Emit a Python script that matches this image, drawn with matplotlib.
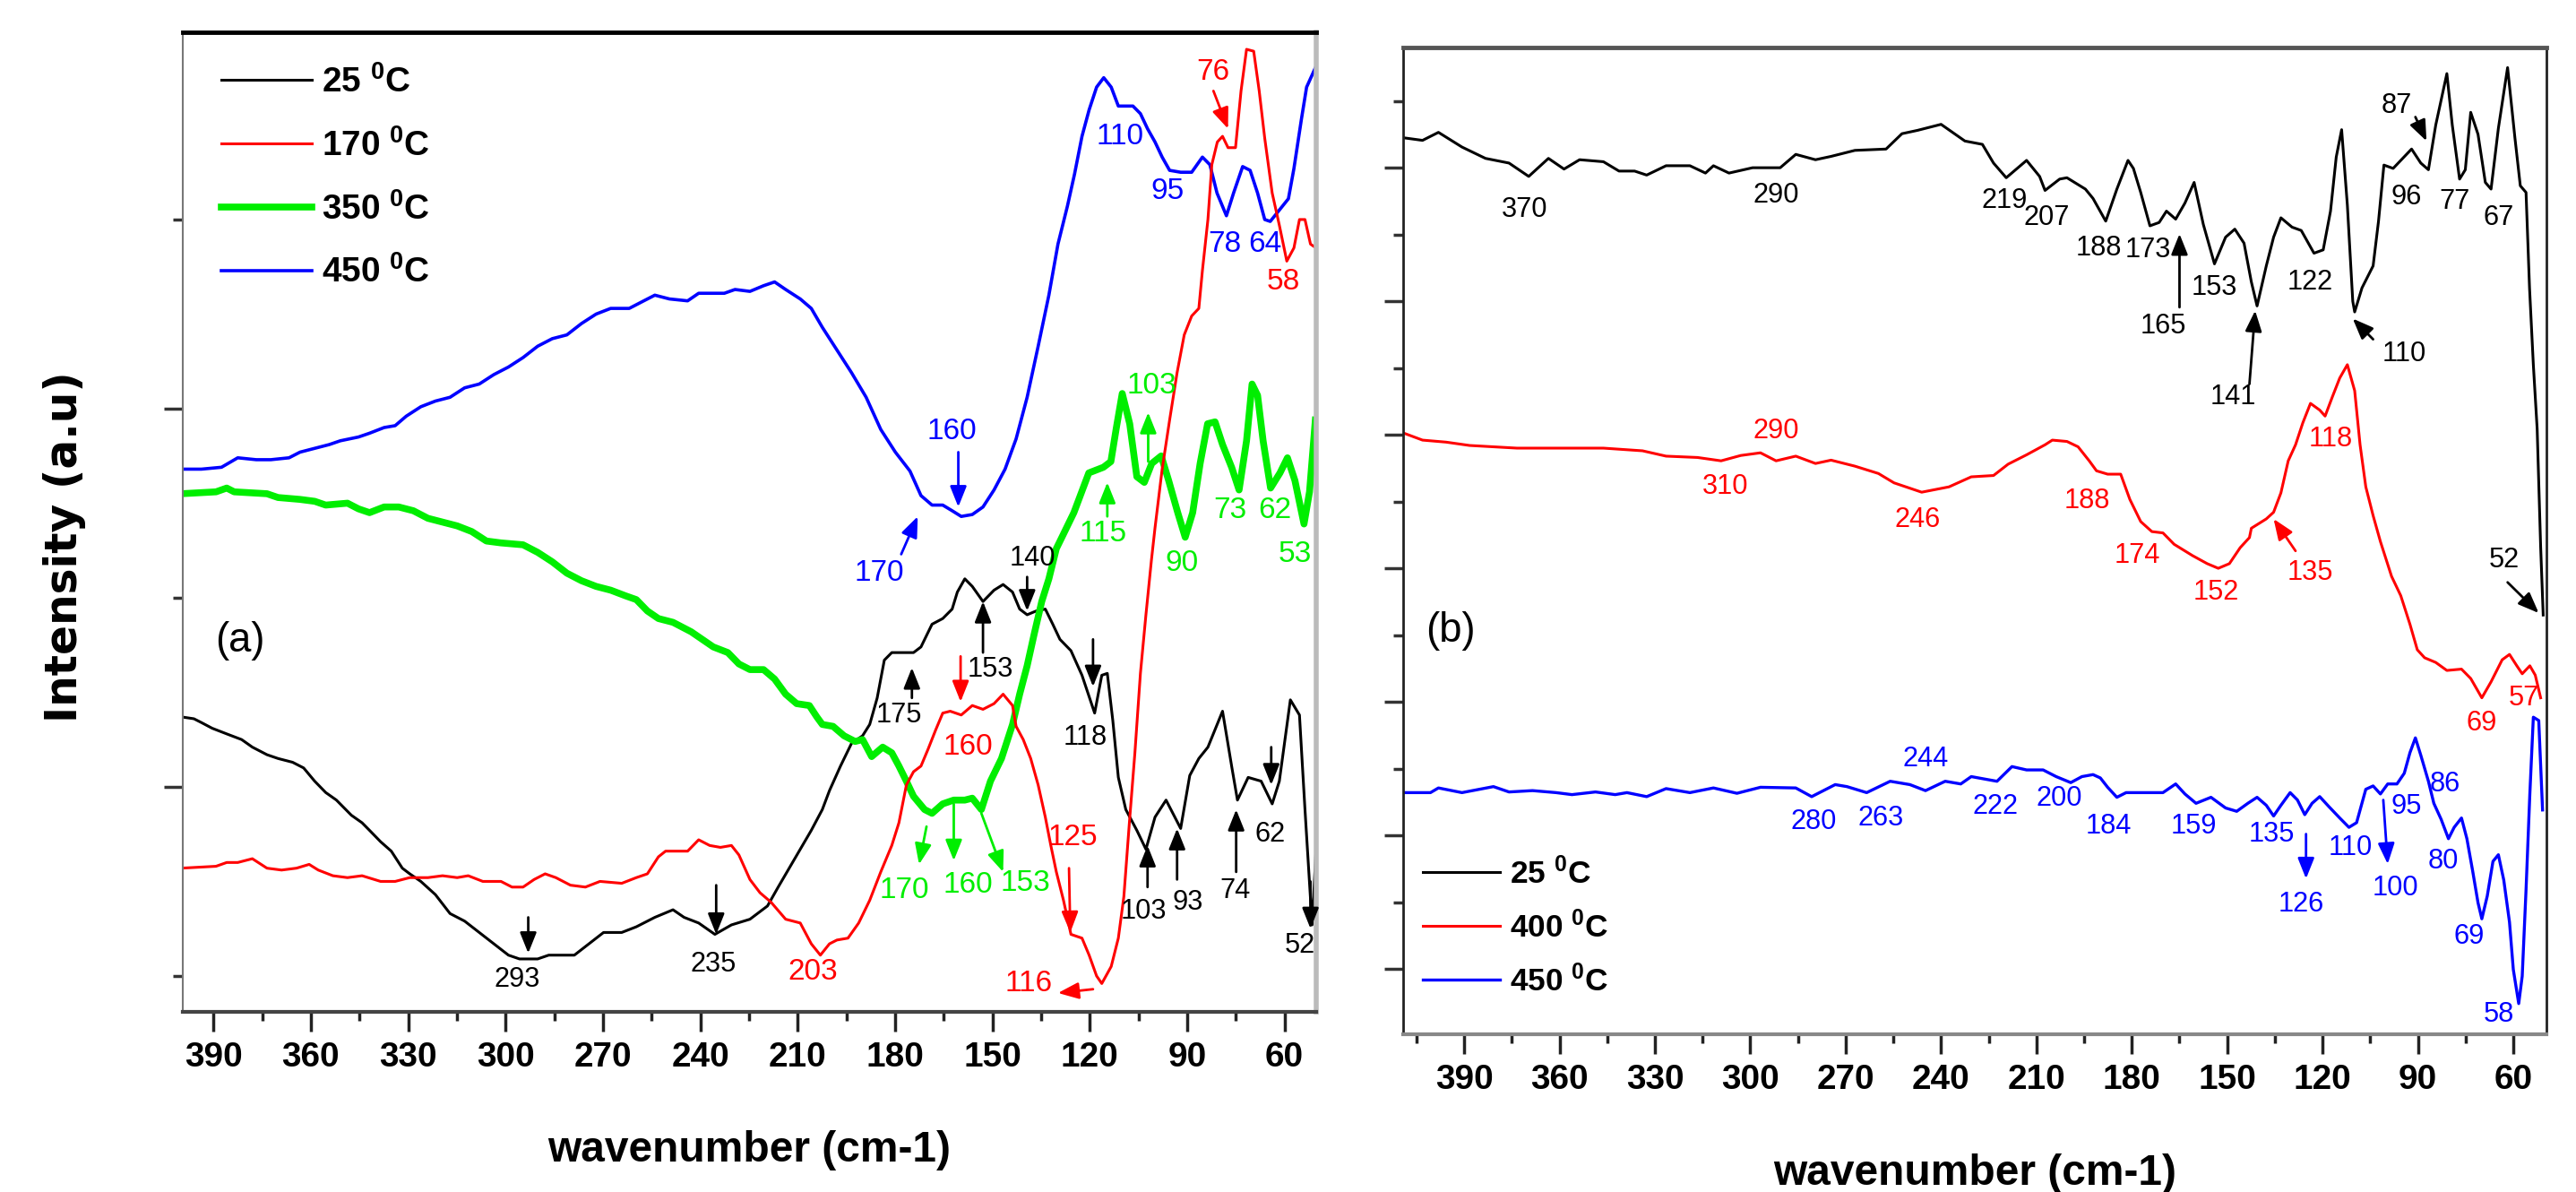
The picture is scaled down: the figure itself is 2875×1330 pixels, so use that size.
import matplotlib
matplotlib.use('Agg')
import matplotlib.pyplot as plt
from matplotlib import font_manager as fm
from matplotlib.ticker import MultipleLocator, NullFormatter


def pick_font(names):
    for n in names:
        try:
            fm.findfont(fm.FontProperties(family=n), fallback_to_default=False)
            return n
        except ValueError:
            continue
    return None


NARROW = pick_font(['Liberation Sans Narrow', 'Arial Narrow'])
SCALE = 1.0
if NARROW is None:
    NARROW = 'Liberation Sans'
    SCALE = 0.82
REGULAR = 'Liberation Sans'

plt.rcParams['font.family'] = [NARROW, 'DejaVu Sans']
plt.rcParams['mathtext.fontset'] = 'custom'
plt.rcParams['mathtext.rm'] = NARROW

BLUE, RED, GREEN, BLACK = '#0000ff', '#ff0000', '#00ee00', '#000000'

# ---------------- panel (a) data ----------------
a_black_wn = [399.9, 396.0, 393.7, 390.4, 385.9, 381.3, 378.0, 373.5, 370.1, 365.6, 362.2, 358.8, 355.4, 352.1,
              347.5, 344.2, 341.9, 338.5, 335.2, 331.8, 329.5, 326.1, 321.6, 317.1, 312.6, 308.1, 303.6, 299.1,
              295.7, 290.1, 286.7, 278.8, 274.3, 269.8, 264.2, 259.7, 254.0, 248.4, 245.0, 240.5, 235.5, 230.4,
              224.7, 219.3, 216.0, 212.6, 209.2, 205.8, 202.4, 200.2, 196.8, 193.4, 190.0, 187.8, 185.5, 183.3,
              181.0, 174.3, 172.0, 168.6, 165.3, 162.4, 160.8, 158.5, 156.2, 152.9, 149.5, 146.7, 143.8, 141.6,
              139.3, 136.5, 133.7, 131.4, 129.2, 125.8, 122.4, 118.5, 116.3, 114.6, 112.9, 111.2, 108.9, 105.5,
              102.7, 99.9, 96.5, 92.0, 89.2, 86.4, 83.6, 79.1, 76.2, 74.5, 71.2, 67.2, 63.8, 61.6, 58.2, 55.4,
              53.7, 51.5, 49.8]
a_black_i = [2.37, 2.36, 2.34, 2.31, 2.28, 2.25, 2.21, 2.17, 2.15, 2.13, 2.10, 2.03, 1.97, 1.93,
             1.85, 1.81, 1.77, 1.71, 1.66, 1.57, 1.54, 1.50, 1.43, 1.33, 1.29, 1.23, 1.17, 1.11,
             1.09, 1.09, 1.11, 1.11, 1.17, 1.23, 1.23, 1.26, 1.31, 1.35, 1.31, 1.28, 1.22, 1.27,
             1.30, 1.37, 1.47, 1.57, 1.67, 1.77, 1.88, 1.98, 2.11, 2.23, 2.27, 2.33, 2.47, 2.67,
             2.71, 2.71, 2.74, 2.86, 2.89, 2.94, 3.03, 3.10, 3.06, 2.98, 3.04, 3.07, 3.03, 2.94,
             2.91, 2.93, 2.94, 2.86, 2.78, 2.72, 2.59, 2.39, 2.59, 2.60, 2.35, 2.05, 1.88, 1.77,
             1.67, 1.84, 1.93, 1.78, 2.06, 2.15, 2.21, 2.40, 2.10, 1.93, 2.05, 2.03, 1.91, 2.03, 2.46, 2.38,
             1.88, 1.27, 1.83]

a_red_wn = [399.9, 389.2, 385.9, 382.5, 378.0, 373.5, 369.0, 364.4, 360.5, 357.7, 353.2, 348.7, 344.2, 338.5,
            334.0, 329.5, 323.9, 319.4, 314.9, 311.5, 307.0, 301.4, 298.0, 294.6, 291.2, 287.8, 284.5, 280.0,
            275.4, 270.9, 264.2, 259.7, 256.3, 252.9, 250.7, 246.1, 243.9, 240.5, 237.1, 233.8, 230.4, 228.1,
            224.7, 221.6, 218.2, 213.7, 209.2, 205.8, 203.0, 200.2, 197.9, 194.5, 191.2, 187.8, 184.4, 181.0,
            178.8, 176.5, 174.3, 172.0, 169.8, 167.5, 165.3, 163.0, 159.6, 156.2, 152.9, 149.5, 146.7, 143.8,
            142.7, 140.5, 138.2, 135.9, 133.7, 132.0, 130.3, 128.1, 125.8, 122.4, 120.2, 117.9, 116.3, 113.4,
            111.2, 109.5, 107.8, 106.1, 104.4, 102.7, 101.0, 99.9, 97.7, 95.4, 93.1, 90.9, 88.6, 86.4, 85.3,
            83.6, 82.4, 80.7, 79.1, 77.4, 75.1, 73.4, 71.7, 69.5, 67.8, 66.1, 63.8, 61.6, 59.3, 57.1, 55.4,
            53.7, 52.0, 50.3]
a_red_i = [1.57, 1.58, 1.60, 1.60, 1.62, 1.57, 1.56, 1.57, 1.59, 1.56, 1.53, 1.52, 1.53, 1.50,
           1.50, 1.52, 1.52, 1.53, 1.52, 1.53, 1.50, 1.50, 1.47, 1.47, 1.51, 1.54, 1.52, 1.48,
           1.47, 1.50, 1.49, 1.52, 1.54, 1.63, 1.66, 1.66, 1.66, 1.72, 1.69, 1.68, 1.69, 1.64,
           1.51, 1.44, 1.39, 1.30, 1.28, 1.17, 1.11, 1.17, 1.19, 1.20, 1.28, 1.40, 1.55, 1.69,
           1.81, 2.01, 2.08, 2.11, 2.20, 2.30, 2.39, 2.40, 2.38, 2.43, 2.41, 2.44, 2.49, 2.43,
           2.32, 2.25, 2.15, 2.01, 1.84, 1.69, 1.55, 1.40, 1.22, 1.20, 1.11, 1.00, 0.96, 1.05,
           1.20, 1.42, 1.81, 2.18, 2.60, 2.91, 3.20, 3.37, 3.68, 3.94, 4.19, 4.39, 4.49, 4.53, 4.73,
           5.00, 5.29, 5.41, 5.44, 5.38, 5.38, 5.68, 5.90, 5.89, 5.68, 5.43, 5.14, 4.97, 4.78, 4.85, 5.00,
           5.00, 4.87, 4.85]

a_green_wn = [399.9, 389.2, 385.9, 383.6, 373.5, 370.1, 363.3, 358.8, 355.4, 348.7, 345.3, 341.9, 337.4, 332.9,
              328.4, 323.9, 319.4, 314.9, 310.4, 305.9, 301.4, 294.6, 290.1, 285.6, 281.1, 276.6, 272.1, 267.6,
              263.0, 259.7, 256.3, 252.9, 248.4, 242.8, 239.4, 236.0, 231.5, 228.1, 224.7, 220.5, 217.1, 213.7,
              210.3, 206.4, 204.1, 202.4, 199.1, 195.7, 192.3, 190.0, 187.2, 183.8, 181.0, 178.8, 176.5, 174.3,
              170.9, 168.6, 165.3, 161.9, 158.5, 156.2, 153.4, 150.6, 147.2, 143.8, 141.6, 139.3, 137.1, 134.8,
              132.6, 130.3, 128.3, 124.9, 120.3, 115.8, 113.5, 111.8, 110.0, 107.7, 105.5, 103.2, 100.9, 98.0,
              95.7, 92.9, 90.6, 88.3, 86.0, 83.7, 81.4, 79.1, 76.3, 74.0, 71.7, 70.0, 68.3, 66.6, 64.3, 61.4,
              59.1, 56.8, 54.0, 52.3, 50.5]
a_green_i = [3.55, 3.56, 3.58, 3.56, 3.55, 3.53, 3.52, 3.51, 3.49, 3.50, 3.47, 3.45, 3.48, 3.48,
             3.46, 3.42, 3.40, 3.38, 3.35, 3.30, 3.29, 3.28, 3.24, 3.19, 3.13, 3.09, 3.06, 3.04,
             3.01, 2.99, 2.93, 2.89, 2.87, 2.82, 2.78, 2.74, 2.71, 2.65, 2.62, 2.62, 2.57, 2.49,
             2.44, 2.43, 2.37, 2.33, 2.32, 2.27, 2.24, 2.25, 2.16, 2.21, 2.18, 2.11, 2.03, 1.95,
             1.88, 1.86, 1.91, 1.93, 1.93, 1.94, 1.88, 2.03, 2.15, 2.33, 2.49, 2.64, 2.81, 2.98,
             3.10, 3.26, 3.33, 3.45, 3.66, 3.69, 3.72, 3.90, 4.08, 3.92, 3.64, 3.61, 3.71, 3.75,
             3.62, 3.45, 3.32, 3.45, 3.71, 3.92, 3.93, 3.81, 3.69, 3.57, 3.83, 4.13, 4.07, 3.83, 3.58, 3.66,
             3.74, 3.62, 3.39, 3.56, 3.94]

a_blue_wn = [399.9, 393.7, 387.5, 382.5, 376.8, 372.3, 366.7, 363.3, 358.8, 354.3, 350.9, 345.3, 341.9, 337.4,
             334.0, 330.6, 326.1, 321.6, 317.1, 312.6, 308.1, 303.6, 299.1, 294.6, 290.1, 285.6, 281.1, 276.6,
             272.1, 267.6, 261.9, 257.4, 254.0, 249.5, 243.9, 240.5, 236.0, 232.6, 229.3, 224.7, 220.5, 217.1,
             213.7, 209.2, 205.8, 202.4, 197.9, 193.4, 188.9, 184.4, 179.9, 175.4, 172.0, 168.6, 165.3, 162.4,
             159.6, 156.2, 152.9, 149.5, 146.1, 142.7, 139.3, 135.9, 132.6, 129.8, 126.9, 124.7, 122.4, 120.2,
             117.9, 115.7, 113.4, 111.2, 106.7, 104.4, 102.2, 99.9, 97.7, 95.4, 92.0, 88.6, 85.3, 83.0, 80.8,
             77.9, 75.7, 72.9, 70.6, 68.3, 66.1, 64.4, 61.6, 58.8, 57.1, 54.8, 53.2, 50.3]
a_blue_i = [3.68, 3.68, 3.69, 3.74, 3.73, 3.73, 3.74, 3.77, 3.79, 3.81, 3.83, 3.85, 3.87, 3.90,
            3.91, 3.96, 4.01, 4.04, 4.06, 4.11, 4.13, 4.18, 4.22, 4.27, 4.33, 4.37, 4.39, 4.45,
            4.50, 4.53, 4.53, 4.57, 4.60, 4.58, 4.57, 4.61, 4.61, 4.61, 4.63, 4.62, 4.65, 4.67,
            4.63, 4.58, 4.53, 4.43, 4.31, 4.19, 4.06, 3.89, 3.77, 3.67, 3.54, 3.49, 3.49, 3.46,
            3.43, 3.44, 3.48, 3.57, 3.68, 3.84, 4.06, 4.33, 4.60, 4.87, 5.07, 5.24, 5.44, 5.58,
            5.70, 5.75, 5.70, 5.60, 5.60, 5.56, 5.48, 5.41, 5.33, 5.26, 5.25, 5.25, 5.33, 5.29, 5.14,
            5.02, 5.14, 5.28, 5.26, 5.14, 5.00, 4.99, 5.05, 5.11, 5.27, 5.53, 5.70, 5.81]

# peak labels: (text, wavenumber, intensity, colour)
a_labels = [('110', 110.6, 5.44, BLUE), ('95', 96.0, 5.15, BLUE), ('78', 78.5, 4.87, BLUE),
            ('64', 66.1, 4.87, BLUE), ('160', 162.4, 3.88, BLUE), ('170', 184.9, 3.13, BLUE),
            ('76', 81.9, 5.78, RED), ('58', 60.5, 4.67, RED), ('160', 157.4, 2.21, RED),
            ('125', 125.3, 1.73, RED), ('116', 138.8, 0.96, RED), ('203', 205.3, 1.02, RED),
            ('103', 101.0, 4.12, GREEN), ('115', 115.8, 3.34, GREEN), ('90', 91.7, 3.18, GREEN),
            ('73', 76.9, 3.46, GREEN), ('62', 63.1, 3.46, GREEN), ('53', 56.8, 3.23, GREEN),
            ('170', 177.1, 1.45, GREEN), ('160', 157.4, 1.48, GREEN), ('153', 139.9, 1.49, GREEN),
            ('293', 296.3, 0.98, BLACK), ('235', 236.0, 1.06, BLACK), ('175', 178.8, 2.38, BLACK),
            ('153', 150.6, 2.62, BLACK), ('140', 137.6, 3.21, BLACK), ('118', 121.3, 2.26, BLACK),
            ('103', 103.3, 1.34, BLACK), ('93', 89.8, 1.39, BLACK), ('74', 75.1, 1.45, BLACK),
            ('62', 64.4, 1.75, BLACK), ('52', 55.4, 1.16, BLACK)]
# arrows: (tail wn, tail I, head wn, head I, colour)
a_arrows = [(160.5, 3.77, 160.5, 3.48, BLUE), (178.1, 3.23, 173.0, 3.43, BLUE),
            (81.9, 5.68, 77.4, 5.48, RED), (159.8, 2.69, 159.8, 2.45, RED),
            (126.4, 1.57, 126.0, 1.23, RED), (119.0, 0.93, 129.8, 0.91, RED),
            (102.0, 3.72, 102.0, 3.98, GREEN), (114.6, 3.43, 114.6, 3.61, GREEN),
            (170.3, 1.79, 172.6, 1.59, GREEN), (161.9, 1.91, 161.9, 1.61, GREEN),
            (153.4, 1.86, 146.7, 1.55, GREEN),
            (293.0, 1.31, 293.0, 1.12, BLACK), (235.1, 1.48, 235.1, 1.22, BLACK),
            (174.8, 2.47, 174.8, 2.63, BLACK), (152.9, 2.71, 152.9, 2.98, BLACK),
            (139.3, 3.11, 139.3, 2.93, BLACK), (119.0, 2.78, 119.0, 2.53, BLACK),
            (102.2, 1.47, 102.2, 1.69, BLACK), (93.1, 1.51, 93.1, 1.78, BLACK),
            (74.9, 1.55, 74.9, 1.88, BLACK), (64.1, 2.21, 64.1, 2.01, BLACK),
            (52.0, 1.50, 52.0, 1.25, BLACK)]

# ---------------- panel (b) data ----------------
b_black_wn = [409.3, 403.1, 398.1, 390.7, 383.3, 375.9, 369.7, 363.5, 358.6, 353.7, 346.2, 341.3, 336.4, 332.6,
              326.5, 319.0, 314.1, 311.6, 306.7, 299.3, 290.6, 285.7, 279.5, 274.6, 267.1, 257.3, 252.3, 247.4,
              240.0, 232.5, 227.0, 223.5, 219.5, 213.1, 209.0, 207.3, 202.7, 200.4, 194.6, 192.2, 188.2, 184.7,
              181.2, 179.5, 177.2, 174.3, 171.4, 169.1, 166.2, 163.3, 160.4, 157.5, 154.0, 150.5, 147.6, 144.7,
              142.4, 140.6, 137.7, 135.4, 133.1, 129.6, 126.7, 122.7, 119.8, 117.5, 115.7, 114.0, 112.2, 110.5,
              109.9, 107.6, 104.1, 102.4, 100.7, 97.8, 95.4, 92.0, 89.1, 86.7, 84.4, 80.9, 79.2, 76.9, 75.1,
              73.4, 71.1, 68.8, 67.0, 64.7, 61.8, 59.5, 57.8, 56.0, 54.9, 53.7, 52.5, 51.4, 50.6]
b_black_i = [13.45, 13.41, 13.53, 13.31, 13.14, 13.07, 12.87, 13.14, 12.98, 13.12, 13.09, 12.95, 12.95, 12.89,
             13.03, 13.03, 12.92, 13.03, 12.92, 13.00, 13.00, 13.20, 13.12, 13.17, 13.26, 13.28, 13.51, 13.56,
             13.65, 13.40, 13.35, 13.07, 12.85, 13.11, 12.87, 12.66, 12.83, 12.85, 12.68, 12.54, 12.20, 12.68,
             13.11, 12.99, 12.63, 12.13, 12.18, 12.35, 12.23, 12.47, 12.78, 12.15, 11.56, 11.96, 12.08, 11.87,
             11.29, 10.93, 11.53, 11.96, 12.25, 12.11, 12.06, 11.72, 11.77, 12.35, 13.16, 13.57, 12.44, 11.00,
             10.84, 11.20, 11.53, 12.20, 13.04, 12.99, 13.11, 13.28, 13.07, 12.97, 13.64, 14.41, 13.64, 12.83,
             12.97, 13.83, 13.50, 12.78, 12.68, 13.59, 14.50, 13.45, 12.73, 12.63, 11.20, 10.05, 9.09, 7.32, 6.30]

b_red_wn = [409.3, 403.1, 395.7, 388.3, 373.4, 356.1, 346.2, 333.9, 326.5, 316.6, 309.2, 303.0, 296.8, 291.9,
            285.7, 279.5, 274.6, 267.1, 259.7, 254.8, 246.1, 237.5, 230.5, 223.5, 218.9, 213.1, 207.3, 205.0,
            200.4, 196.9, 193.4, 191.1, 187.6, 183.5, 180.6, 177.2, 173.7, 170.2, 166.7, 160.9, 156.3, 152.8,
            149.3, 145.9, 143.0, 142.4, 137.7, 135.4, 133.1, 130.8, 128.5, 126.2, 123.8, 120.9, 119.2, 116.9,
            114.6, 112.2, 109.9, 108.2, 106.4, 104.1, 101.8, 98.3, 95.4, 92.5, 90.2, 87.9, 84.4, 80.9, 76.3,
            73.4, 69.9, 67.0, 63.5, 61.2, 58.9, 57.2, 54.8, 53.1, 51.4]
b_red_i = [9.03, 8.92, 8.89, 8.84, 8.80, 8.80, 8.80, 8.76, 8.68, 8.66, 8.61, 8.69, 8.73, 8.61,
           8.68, 8.57, 8.62, 8.53, 8.42, 8.28, 8.14, 8.22, 8.37, 8.39, 8.56, 8.70, 8.85, 8.92,
           8.90, 8.82, 8.61, 8.46, 8.41, 8.41, 8.03, 7.70, 7.55, 7.53, 7.36, 7.19, 7.07, 7.00,
           7.07, 7.31, 7.46, 7.60, 7.74, 7.84, 8.13, 8.61, 8.85, 9.18, 9.47, 9.37, 9.28, 9.57,
           9.85, 10.05, 9.66, 8.85, 8.22, 7.79, 7.40, 6.88, 6.59, 6.16, 5.78, 5.66, 5.59, 5.47, 5.49,
           5.35, 5.06, 5.30, 5.63, 5.71, 5.54, 5.42, 5.54, 5.40, 5.06]

b_blue_wn = [409.3, 400.6, 398.1, 390.7, 380.8, 375.9, 368.5, 361.1, 356.1, 348.7, 342.5, 338.8, 332.6, 326.5,
             319.0, 311.6, 304.2, 296.8, 285.7, 280.7, 273.3, 269.6, 263.4, 256.0, 249.8, 244.9, 238.7, 233.8,
             230.5, 225.9, 222.4, 217.7, 213.1, 207.9, 203.8, 199.2, 195.7, 192.2, 189.9, 187.6, 184.7, 181.8,
             177.2, 170.2, 166.2, 163.3, 159.8, 155.1, 150.5, 147.0, 143.5, 140.6, 137.7, 135.4, 133.1, 130.2,
             127.9, 125.6, 123.3, 120.9, 118.0, 114.6, 111.7, 109.3, 106.4, 104.1, 101.8, 99.5, 96.6, 94.3,
             92.5, 90.8, 89.1, 86.7, 85.0, 82.7, 80.4, 78.6, 76.3, 74.6, 72.8, 71.1, 69.9, 68.2, 66.4, 64.7,
             63.0, 61.2, 60.0, 58.3, 57.2, 56.0, 54.8, 53.7, 52.0, 50.8]
b_blue_i = [3.64, 3.64, 3.71, 3.64, 3.73, 3.65, 3.67, 3.64, 3.61, 3.65, 3.61, 3.64, 3.58, 3.70,
            3.64, 3.71, 3.63, 3.72, 3.71, 3.58, 3.76, 3.73, 3.64, 3.81, 3.76, 3.67, 3.81, 3.77,
            3.88, 3.84, 3.81, 4.03, 3.98, 3.98, 3.88, 3.79, 3.88, 3.91, 3.86, 3.72, 3.57, 3.64,
            3.64, 3.64, 3.77, 3.62, 3.48, 3.57, 3.41, 3.36, 3.48, 3.57, 3.45, 3.29, 3.45, 3.64,
            3.53, 3.31, 3.48, 3.58, 3.43, 3.26, 3.12, 3.19, 3.69, 3.74, 3.62, 3.77, 3.77, 3.93,
            4.24, 4.46, 4.20, 3.81, 3.48, 3.24, 2.95, 3.12, 3.26, 2.95, 2.47, 1.99, 1.75, 2.09, 2.61, 2.71,
            2.33, 1.70, 0.99, 0.48, 0.89, 2.18, 3.62, 4.77, 4.72, 3.38]

b_labels = [('370', 371.0, 12.37, BLACK), ('290', 291.9, 12.59, BLACK), ('219', 220.1, 12.51, BLACK),
            ('207', 206.7, 12.25, BLACK), ('188', 190.5, 11.80, BLACK), ('173', 174.9, 11.77, BLACK),
            ('165', 170.2, 10.62, BLACK), ('153', 154.0, 11.20, BLACK), ('141', 148.2, 9.57, BLACK),
            ('122', 123.8, 11.29, BLACK), ('110', 94.3, 10.21, BLACK), ('87', 96.6, 13.93, BLACK),
            ('96', 93.7, 12.56, BLACK), ('77', 78.6, 12.49, BLACK), ('67', 64.7, 12.25, BLACK),
            ('52', 63.0, 7.12, BLACK),
            ('290', 291.9, 9.05, RED), ('310', 307.9, 8.22, RED), ('246', 247.4, 7.72, RED),
            ('188', 194.0, 8.01, RED), ('174', 178.3, 7.19, RED), ('152', 153.4, 6.64, RED),
            ('135', 123.8, 6.93, RED), ('118', 117.5, 8.94, RED), ('69', 69.9, 4.68, RED),
            ('57', 56.6, 5.06, RED),
            ('244', 244.9, 4.14, BLUE), ('280', 280.2, 3.20, BLUE), ('263', 259.0, 3.25, BLUE),
            ('222', 223.0, 3.43, BLUE), ('200', 202.7, 3.55, BLUE), ('184', 187.4, 3.14, BLUE),
            ('159', 160.4, 3.14, BLUE), ('135', 136.0, 3.02, BLUE), ('126', 126.7, 1.97, BLUE),
            ('110', 111.1, 2.81, BLUE), ('100', 97.2, 2.21, BLUE), ('95', 93.7, 3.43, BLUE),
            ('86', 81.5, 3.76, BLUE), ('80', 82.1, 2.61, BLUE), ('69', 74.0, 1.49, BLUE),
            ('58', 64.7, 0.31, BLUE)]
b_arrows = [(165.0, 10.91, 165.0, 12.01, BLACK), (143.0, 9.76, 141.2, 10.86, BLACK),
            (104.1, 10.43, 110.5, 10.74, BLACK), (90.8, 13.76, 87.3, 13.40, BLACK),
            (61.8, 6.79, 52.0, 6.33, BLACK), (128.5, 7.26, 135.4, 7.74, RED),
            (125.2, 3.02, 125.2, 2.35, BLUE), (100.9, 3.53, 99.5, 2.57, BLUE)]

ticks_x = [390, 360, 330, 300, 270, 240, 210, 180, 150, 120, 90, 60]


def leg(t):
    return t + r' $\mathregular{^0}$C'


fig = plt.figure(figsize=(28.75, 13.3), dpi=100)
axa = fig.add_axes([0.0710, 0.1511, 0.4400, 0.8218])
axb = fig.add_axes([0.5447, 0.1323, 0.4438, 0.8278])

# ---- panel a ----
axa.plot(a_black_wn, a_black_i, color=BLACK, lw=2.2, label=leg('25'))
axa.plot(a_blue_wn, a_blue_i, color=BLUE, lw=2.6, label=leg('450'))
axa.plot(a_green_wn, a_green_i, color=GREEN, lw=5.5, label=leg('350'))
axa.plot(a_red_wn, a_red_i, color=RED, lw=2.2, label=leg('170'))
axa.set_xlim(399.4, 50.2)
axa.set_ylim(0.81, 5.99)

for txt, x, y, c in a_labels:
    if c == BLACK:
        axa.text(x, y, txt, color=c, ha='center', va='center', fontsize=27 * SCALE, family=NARROW)
    else:
        axa.text(x, y, txt, color=c, ha='center', va='center', fontsize=24, family=REGULAR)
for x0, y0, x1, y1, c in a_arrows:
    axa.annotate('', xy=(x1, y1), xytext=(x0, y0),
                 arrowprops=dict(arrowstyle='-|>,head_length=0.7,head_width=0.28', color=c, lw=2,
                                 shrinkA=0, shrinkB=0, mutation_scale=20))
axa.text(381.9, 2.77, '(a)', ha='center', va='center', fontsize=40 * SCALE, family=NARROW)

h, l = axa.get_legend_handles_labels()
order = [0, 3, 2, 1]
axa.legend([h[i] for i in order], [l[i] for i in order], loc='upper left', bbox_to_anchor=(0.034, 0.966),
           frameon=False, borderpad=0, borderaxespad=0, handlelength=2.6, handletextpad=0.3,
           labelspacing=0.85, prop=dict(family=NARROW, weight='bold', size=34 * SCALE))

# ---- panel b ----
axb.plot(b_black_wn, b_black_i, color=BLACK, lw=2.2, label=leg('25'))
axb.plot(b_red_wn, b_red_i, color=RED, lw=2.2, label=leg('400'))
axb.plot(b_blue_wn, b_blue_i, color=BLUE, lw=2.4, label=leg('450'))
axb.set_xlim(409.2, 49.6)
axb.set_ylim(0.02, 14.8)

for txt, x, y, c in b_labels:
    axb.text(x, y, txt, color=c, ha='center', va='center', fontsize=27 * SCALE, family=NARROW)
for x0, y0, x1, y1, c in b_arrows:
    axb.annotate('', xy=(x1, y1), xytext=(x0, y0),
                 arrowprops=dict(arrowstyle='-|>,head_length=0.7,head_width=0.28', color=c, lw=2,
                                 shrinkA=0, shrinkB=0, mutation_scale=20))
axb.text(394.4, 6.06, '(b)', ha='center', va='center', fontsize=40 * SCALE, family=NARROW)
axb.legend(loc='upper left', bbox_to_anchor=(0.017, 0.18), frameon=False, borderpad=0, borderaxespad=0,
           handlelength=2.45, handletextpad=0.3, labelspacing=0.67,
           prop=dict(family=NARROW, weight='bold', size=31 * SCALE))

# ---- axes styling ----
for ax in (axa, axb):
    ax.set_xticks(ticks_x)
    ax.xaxis.set_minor_locator(MultipleLocator(30, offset=15))
    ax.yaxis.set_major_locator(MultipleLocator(2, offset=1) if ax is axb else MultipleLocator(2))
    ax.yaxis.set_minor_locator(MultipleLocator(2, offset=0) if ax is axb else MultipleLocator(2, offset=1))
    ax.yaxis.set_major_formatter(NullFormatter())
    ax.tick_params(axis='x', which='major', direction='out', length=16, width=2.5, pad=8,
                   labelsize=34 * SCALE, colors='#222222')
    ax.tick_params(axis='x', which='minor', direction='out', length=7, width=2.5, colors='#222222')
    ax.tick_params(axis='y', which='major', direction='out', length=15, width=2.5, colors='#333333')
    ax.tick_params(axis='y', which='minor', direction='out', length=8, width=2.5, colors='#333333')
    for lab in ax.get_xticklabels():
        lab.set_fontweight('bold')
        lab.set_family(NARROW)
        lab.set_color('black')

axa.spines['top'].set(color='black', linewidth=3.5)
axa.spines['left'].set(color='#777777', linewidth=1.5)
axa.spines['bottom'].set(color='#444444', linewidth=3)
axa.spines['right'].set(color='#bbbbbb', linewidth=4)
axb.spines['top'].set(color='#555555', linewidth=3.5)
axb.spines['left'].set(color='#222222', linewidth=2)
axb.spines['right'].set(color='#222222', linewidth=2)
axb.spines['bottom'].set(color='#888888', linewidth=3)

axa.text(0.5, -0.141, 'wavenumber (cm-1)', transform=axa.transAxes, ha='center', va='center',
         fontsize=42 * SCALE, weight='bold', family=NARROW)
axb.text(0.5, -0.141, 'wavenumber (cm-1)', transform=axb.transAxes, ha='center', va='center',
         fontsize=42 * SCALE, weight='bold', family=NARROW)
fig.text(72 / 2875, 1 - 610 / 1330, 'Intensity (a.u)', rotation=90, ha='center', va='center',
         fontsize=35, weight='bold', family='DejaVu Sans')

fig.savefig('out.png', dpi=100, facecolor='white')
